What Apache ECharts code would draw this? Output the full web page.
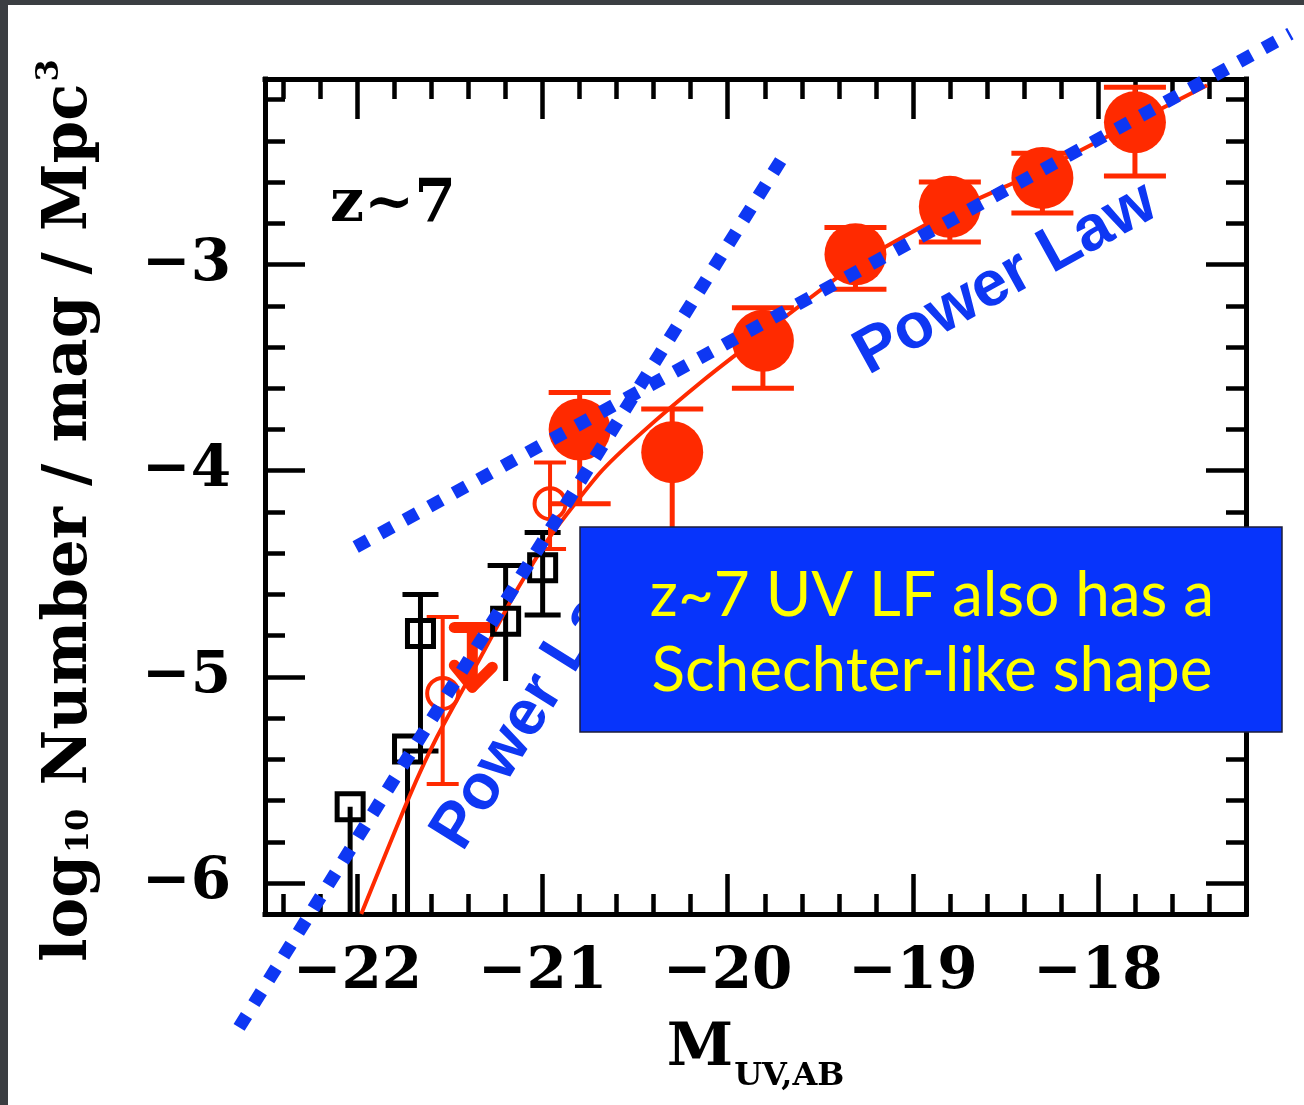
<!DOCTYPE html>
<html>
<head>
<meta charset="utf-8">
<script src="https://cdn.jsdelivr.net/npm/echarts@6/dist/echarts.min.js"></script>
<style>
html,body{margin:0;padding:0;background:#fff;}
#c{width:1304px;height:1105px;}
</style>
</head>
<body>
<div id="c"></div>
<script>
// ---------- data ----------
const xMajor = [-22, -21, -20, -19, -18];
const xMinor = [-22.4, -22.2, -22.0, -21.8, -21.6, -21.4, -21.2, -21.0, -20.8, -20.6, -20.4, -20.2, -20.0,
                -19.8, -19.6, -19.4, -19.2, -19.0, -18.8, -18.6, -18.4, -18.2, -18.0, -17.8, -17.6, -17.4];
const yMajor = [-6, -5, -4, -3];
const yMinor = [-6.0, -5.8, -5.6, -5.4, -5.2, -5.0, -4.8, -4.6, -4.4, -4.2, -4.0,
                -3.8, -3.6, -3.4, -3.2, -3.0, -2.8, -2.6, -2.4, -2.2];

// HST z~7 points (filled circles)
const lfM   = [-20.80, -20.30, -19.81, -19.31, -18.80, -18.30, -17.80];
const lfPhi = [-3.80, -3.91, -3.37, -2.95, -2.72, -2.58, -2.31];
const lfHi  = [-3.62, -3.70, -3.21, -2.82, -2.60, -2.46, -2.14];
const lfLo  = [-4.16, -4.40, -3.60, -3.12, -2.89, -2.75, -2.57];

// open red circles
const ocM   = [-20.96, -21.54];
const ocPhi = [-4.16, -5.08];
const ocHi  = [-3.96, -4.71];
const ocLo  = [-4.38, -5.52];

// upper limit (red arrow)
const ulM   = [-21.38];
const ulTop = [-4.76];
const ulTip = [-5.05];

// ground-based open squares
const sqM     = [-22.04, -21.73, -21.66, -21.20, -21.00];
const sqPhi   = [-5.63, -5.35, -4.79, -4.73, -4.47];
const sqHi    = [-5.63, -5.35, -4.60, -4.46, -4.30];
const sqLo    = [-6.60, -6.60, -5.36, -5.02, -4.70];
const sqCapHi = [0, 0, 1, 1, 1];
const sqCapLo = [0, 0, 1, 0, 1];

// Schechter fit curve
const schM = [-21.98, -21.72, -21.57, -21.32, -21.14, -20.96, -20.69, -20.47, -20.13,
              -19.80, -19.31, -18.80, -18.30, -17.80, -17.41];
const schV = [-6.15, -5.58, -5.29, -4.88, -4.58, -4.32, -4.01, -3.82, -3.56,
              -3.33, -3.00, -2.745, -2.54, -2.31, -2.13];

// power laws (end points)
const plShallowM = [-22.01, -16.96];
const plShallowV = [-4.37, -1.88];
const plSteepM   = [-22.64, -19.71];
const plSteepV   = [-6.70, -2.49];

// ---------- styling ----------
const RED = '#ff2a00';
const BLUE = '#0e37f3';
const BOXBLUE = '#0734fb';
const SERIF = '"DejaVu Serif", serif';
const XMIN = -22.5, XMAX = -17.2, YMIN = -6.15, YMAX = -2.1;

function fmt(v) { return (v < 0 ? '\u2212' : '') + Math.abs(Math.round(v)); }

function xAx(pos, ticks, len, main) {
  return {
    type: 'value', position: pos, min: XMIN, max: XMAX,
    splitLine: { show: false },
    axisLine: { show: main, onZero: false, lineStyle: { color: '#000', width: 5, cap: 'square' } },
    axisTick: { show: true, inside: true, length: len, customValues: ticks,
                lineStyle: { color: '#000', width: 4.5 } },
    axisLabel: (main && pos === 'bottom') ? {
      show: true, customValues: xMajor, formatter: fmt, margin: 30, color: '#000',
      fontFamily: SERIF, fontSize: 58, fontWeight: 'bold'
    } : { show: false }
  };
}
function yAx(pos, ticks, len, main) {
  return {
    type: 'value', position: pos, min: YMIN, max: YMAX,
    splitLine: { show: false },
    axisLine: { show: main, onZero: false, lineStyle: { color: '#000', width: 5, cap: 'square' } },
    axisTick: { show: true, inside: true, length: len, customValues: ticks,
                lineStyle: { color: '#000', width: 4.5 } },
    axisLabel: (main && pos === 'left') ? {
      show: true, customValues: yMajor, formatter: fmt, margin: 34, color: '#000',
      fontFamily: SERIF, fontSize: 58, fontWeight: 'bold'
    } : { show: false }
  };
}

function errBar(capHalf, lw, color, useFlags) {
  return function (params, api) {
    const x = api.value(0), lo = api.value(1), hi = api.value(2);
    const capLo = useFlags ? api.value(3) : 1, capHi = useFlags ? api.value(4) : 1;
    const a = api.coord([x, lo]), b = api.coord([x, hi]);
    const st = { stroke: color, lineWidth: lw };
    const ch = [{ type: 'line', shape: { x1: a[0], y1: a[1], x2: b[0], y2: b[1] }, style: st }];
    if (capHi) ch.push({ type: 'line', shape: { x1: b[0] - capHalf, y1: b[1], x2: b[0] + capHalf, y2: b[1] }, style: st });
    if (capLo) ch.push({ type: 'line', shape: { x1: a[0] - capHalf, y1: a[1], x2: a[0] + capHalf, y2: a[1] }, style: st });
    return { type: 'group', children: ch };
  };
}

function dottedLine(params, api) {
  const a = api.coord([api.value(0), api.value(1)]);
  const b = api.coord([api.value(2), api.value(3)]);
  return { type: 'line', shape: { x1: a[0], y1: a[1], x2: b[0], y2: b[1] },
           style: { stroke: BLUE, lineWidth: 13, lineDash: [14, 14], lineCap: 'butt' } };
}

const option = {
  animation: false,
  backgroundColor: '#fff',
  grid: { left: 265, right: 58, top: 79, bottom: 191, containLabel: false },
  xAxis: [
    Object.assign(xAx('bottom', xMajor, 40, true), {
      name: '{m|M}{s|UV,AB}', nameLocation: 'middle', nameGap: 90,
      nameTextStyle: {
        color: '#000',
        rich: {
          m: { fontFamily: SERIF, fontSize: 60, fontWeight: 'bold', color: '#000', lineHeight: 66, verticalAlign: 'middle' },
          s: { fontFamily: SERIF, fontSize: 32, fontWeight: 'bold', color: '#000', lineHeight: 32,
               padding: [54, 0, 0, 1], verticalAlign: 'middle' }
        }
      }
    }),
    xAx('bottom', xMinor, 20, false),
    xAx('top', xMajor, 40, true),
    xAx('top', xMinor, 20, false)
  ],
  yAxis: [
    Object.assign(yAx('left', yMajor, 40, true), {
      name: '{a|log}{s|10}{a| Number / mag / Mpc}{p|3}', nameLocation: 'middle', nameRotate: 90, nameGap: 160,
      nameTextStyle: {
        color: '#000', padding: [0, 28, 0, 0],
        rich: {
          a: { fontFamily: SERIF, fontSize: 61, fontWeight: 'bold', color: '#000', lineHeight: 70, verticalAlign: 'middle' },
          s: { fontFamily: SERIF, fontSize: 32, fontWeight: 'bold', color: '#000', lineHeight: 32,
               padding: [19, 2, 0, 2], verticalAlign: 'middle' },
          p: { fontFamily: SERIF, fontSize: 32, fontWeight: 'bold', color: '#000', lineHeight: 32,
               padding: [0, 0, 41, 2], verticalAlign: 'middle' }
        }
      }
    }),
    yAx('left', yMinor, 20, false),
    yAx('right', yMajor, 40, true),
    yAx('right', yMinor, 20, false)
  ],
  series: [
    { type: 'line', name: 'Schechter', data: schM.map((m, i) => [m, schV[i]]), showSymbol: false,
      smooth: 0.2, clip: true, lineStyle: { color: RED, width: 4 }, z: 3, silent: true },

    { type: 'custom', name: 'sqErr', clip: true, z: 2,
      data: sqM.map((m, i) => [m, sqLo[i], sqHi[i], sqCapLo[i], sqCapHi[i]]),
      renderItem: errBar(18, 5, '#000', true) },
    { type: 'scatter', name: 'squares', data: sqM.map((m, i) => [m, sqPhi[i]]), symbol: 'rect', symbolSize: 26,
      itemStyle: { color: 'rgba(0,0,0,0)', borderColor: '#000', borderWidth: 5, opacity: 1 }, z: 3 },

    { type: 'custom', name: 'ocErr', clip: true, z: 2,
      data: ocM.map((m, i) => [m, ocLo[i], ocHi[i]]),
      renderItem: errBar(16, 4, RED, false) },
    { type: 'scatter', name: 'openCircles', data: ocM.map((m, i) => [m, ocPhi[i]]), symbol: 'circle', symbolSize: 31,
      itemStyle: { color: 'rgba(0,0,0,0)', borderColor: RED, borderWidth: 4, opacity: 1 }, z: 3 },

    { type: 'custom', name: 'upperLimit', clip: true, z: 3,
      data: ulM.map((m, i) => [m, ulTop[i], ulTip[i]]),
      renderItem: function (params, api) {
        const a = api.coord([api.value(0), api.value(1)]);
        const b = api.coord([api.value(0), api.value(2)]);
        const st = { stroke: RED, lineWidth: 11, lineCap: 'round', lineJoin: 'round', fill: null };
        return { type: 'group', children: [
          { type: 'line', shape: { x1: a[0] - 18, y1: a[1], x2: a[0] + 18, y2: a[1] }, style: st },
          { type: 'line', shape: { x1: a[0], y1: a[1], x2: b[0], y2: b[1] }, style: st },
          { type: 'polyline', shape: { points: [[b[0] - 18, b[1] - 22], [b[0], b[1]], [b[0] + 20, b[1] - 20]] }, style: st }
        ] };
      } },

    { type: 'custom', name: 'lfErr', clip: true, z: 2,
      data: lfM.map((m, i) => [m, lfLo[i], lfHi[i]]),
      renderItem: errBar(31, 5, RED, false) },
    { type: 'scatter', name: 'HST z~7', data: lfM.map((m, i) => [m, lfPhi[i]]), symbol: 'circle', symbolSize: 62,
      itemStyle: { color: RED, opacity: 1 }, z: 4 },

    { type: 'custom', name: 'PL shallow', clip: false, z: 6, silent: true,
      data: [[plShallowM[0], plShallowV[0], plShallowM[1], plShallowV[1]]], renderItem: dottedLine },
    { type: 'custom', name: 'PL steep', clip: false, z: 6, silent: true,
      data: [[plSteepM[0], plSteepV[0], plSteepM[1], plSteepV[1]]], renderItem: dottedLine }
  ],
  graphic: [
    { type: 'rect', z: 200, shape: { x: 0, y: 0, width: 1304, height: 5 }, style: { fill: '#3b3e42' } },
    { type: 'rect', z: 200, shape: { x: 0, y: 0, width: 8, height: 1105 }, style: { fill: '#3b3e42' } },
    { type: 'text', z: 50, x: 393, y: 205,
      style: { text: 'z~7', font: 'bold 60px "DejaVu Serif"', fill: '#000', align: 'center', verticalAlign: 'middle',
               textAlign: 'center', textVerticalAlign: 'middle' } },
    { type: 'text', z: 50, x: 1006, y: 279, rotation: 28.9 * Math.PI / 180,
      style: { text: 'Power Law', font: 'bold 64px "Liberation Sans"', fill: BLUE, align: 'center', verticalAlign: 'middle',
               textAlign: 'center', textVerticalAlign: 'middle' } },
    { type: 'text', z: 50, x: 536, y: 702, rotation: 58 * Math.PI / 180,
      style: { text: 'Power Law', font: 'bold 64px "Liberation Sans"', fill: BLUE, align: 'center', verticalAlign: 'middle',
               textAlign: 'center', textVerticalAlign: 'middle' } },
    { type: 'rect', z: 100, shape: { x: 580, y: 527, width: 702, height: 205 },
      style: { fill: BOXBLUE, stroke: '#1c1c3a', lineWidth: 1.5 } },
    { type: 'text', z: 101, x: 932, y: 596,
      style: { text: 'z~7 UV LF also has a', font: '62px Lato', fill: '#ffff00', align: 'center', verticalAlign: 'middle',
               textAlign: 'center', textVerticalAlign: 'middle' } },
    { type: 'text', z: 101, x: 932, y: 671,
      style: { text: 'Schechter-like shape', font: '62px Lato', fill: '#ffff00', align: 'center', verticalAlign: 'middle',
               textAlign: 'center', textVerticalAlign: 'middle' } }
  ]
};

const chart = echarts.init(document.getElementById('c'), null, { renderer: 'canvas' });
chart.setOption(option);
</script>
</body>
</html>
